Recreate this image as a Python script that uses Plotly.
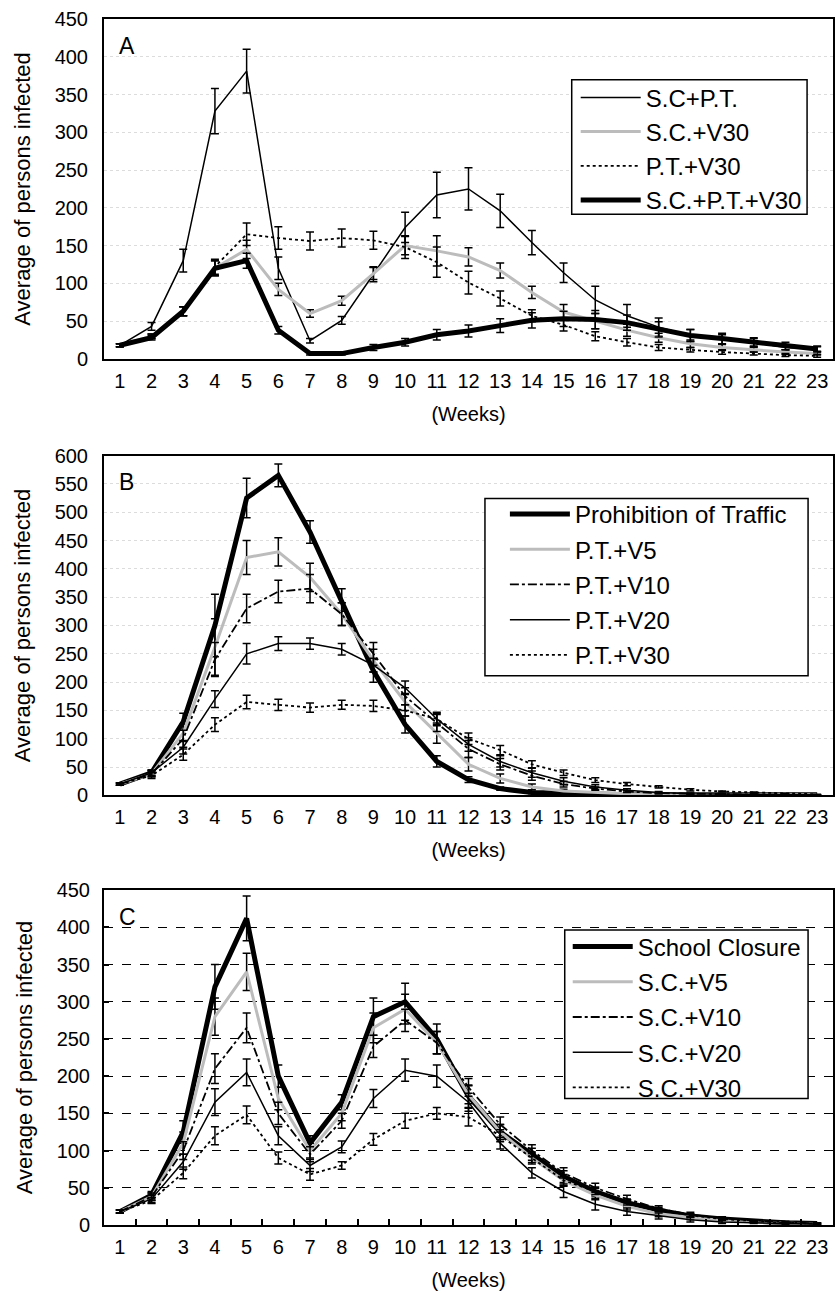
import plotly.graph_objects as go

weeks = list(range(1, 24))

# Panel A
a_names = ["S.C+P.T.", "S.C.+V30", "P.T.+V30", "S.C.+P.T.+V30"]
a_sc_pt = [18, 43, 130, 328, 381, 120, 24, 51, 112, 174, 217, 225, 196, 154, 114, 78, 57, 42, 31, 26, 22, 15, 13]
a_sc_v30 = [18, 30, 63, 120, 145, 92, 60, 77, 113, 150, 143, 135, 117, 88, 62, 50, 38, 28, 20, 15, 12, 9, 7]
a_pt_v30 = [18, 30, 63, 122, 165, 160, 156, 160, 157, 148, 128, 101, 80, 57, 45, 30, 22, 15, 12, 9, 7, 5, 4]
a_all = [18, 28, 63, 120, 130, 38, 7, 7, 15, 22, 32, 37, 44, 51, 53, 52, 48, 39, 31, 27, 22, 17, 13]
a_sc_pt_err = [2, 5, 15, 30, 29, 15, 3, 5, 10, 20, 30, 28, 22, 16, 13, 18, 15, 12, 8, 6, 5, 4, 3]
a_sc_v30_err = [2, 3, 6, 10, 12, 8, 5, 6, 8, 12, 20, 12, 10, 8, 10, 10, 8, 6, 5, 4, 3, 3, 2]
a_pt_v30_err = [2, 3, 6, 10, 15, 15, 12, 12, 12, 15, 20, 15, 10, 8, 8, 6, 5, 4, 3, 3, 2, 2, 2]
a_all_err = [2, 3, 6, 10, 10, 5, 2, 2, 4, 5, 7, 8, 9, 10, 10, 12, 10, 10, 8, 7, 6, 5, 4]

# Panel B
b_names = ["Prohibition of Traffic", "P.T.+V5", "P.T.+V10", "P.T.+V20", "P.T.+V30"]
b_pt = [20, 40, 130, 300, 525, 565, 465, 345, 220, 125, 60, 28, 12, 5, 3, 2, 1, 1, 1, 1, 1, 1, 1]
b_v5 = [20, 38, 110, 262, 420, 430, 385, 320, 238, 165, 110, 55, 30, 15, 8, 5, 3, 2, 1, 1, 1, 1, 1]
b_v10 = [20, 38, 100, 240, 330, 360, 365, 320, 250, 175, 128, 82, 55, 35, 20, 12, 7, 4, 3, 2, 1, 1, 1]
b_v20 = [20, 40, 85, 170, 250, 268, 268, 258, 230, 190, 135, 90, 60, 40, 25, 15, 9, 5, 3, 2, 1, 1, 1]
b_v30 = [20, 35, 72, 125, 165, 160, 155, 160, 158, 150, 135, 100, 80, 55, 40, 27, 20, 15, 10, 7, 5, 3, 2]
b_pt_err = [2, 5, 15, 55, 35, 20, 20, 20, 20, 15, 10, 5, 3, 2, 1, 1, 1, 0, 0, 0, 0, 0, 0]
b_v5_err = [2, 5, 15, 50, 30, 25, 25, 20, 20, 15, 18, 12, 8, 5, 3, 2, 1, 1, 0, 0, 0, 0, 0]
b_v10_err = [2, 5, 15, 30, 25, 20, 25, 20, 20, 15, 15, 15, 10, 8, 5, 3, 2, 1, 1, 0, 0, 0, 0]
b_v20_err = [2, 5, 12, 15, 18, 12, 10, 10, 12, 12, 12, 12, 10, 8, 6, 4, 3, 2, 1, 1, 0, 0, 0]
b_v30_err = [2, 5, 10, 12, 12, 10, 8, 8, 10, 10, 10, 10, 8, 6, 5, 4, 3, 2, 2, 1, 1, 0, 0]

# Panel C
c_names = ["School Closure", "S.C.+V5", "S.C.+V10", "S.C.+V20", "S.C.+V30"]
c_sc = [18, 40, 125, 320, 412, 200, 110, 165, 280, 300, 250, 173, 125, 95, 65, 45, 30, 20, 12, 8, 5, 3, 2]
c_v5 = [18, 38, 110, 280, 340, 170, 100, 150, 265, 290, 245, 175, 125, 90, 60, 40, 25, 15, 10, 6, 4, 2, 1]
c_v10 = [18, 38, 100, 210, 265, 150, 95, 140, 240, 275, 245, 185, 135, 100, 70, 50, 35, 22, 14, 9, 6, 4, 2]
c_v20 = [18, 35, 85, 165, 205, 120, 80, 105, 170, 208, 200, 165, 110, 70, 45, 28, 18, 12, 7, 4, 3, 2, 1]
c_v30 = [18, 33, 70, 120, 148, 90, 68, 80, 115, 140, 150, 145, 120, 90, 60, 45, 30, 20, 13, 8, 5, 3, 2]
c_sc_err = [2, 5, 15, 30, 30, 15, 10, 10, 25, 25, 20, 15, 10, 8, 8, 6, 5, 4, 3, 2, 1, 1, 1]
c_v5_err = [2, 5, 15, 25, 25, 15, 10, 10, 20, 20, 15, 12, 10, 8, 8, 6, 5, 4, 3, 2, 1, 1, 1]
c_v10_err = [2, 5, 12, 20, 20, 15, 10, 10, 15, 15, 15, 12, 10, 8, 7, 6, 5, 4, 3, 2, 1, 1, 1]
c_v20_err = [2, 5, 10, 18, 18, 12, 8, 8, 12, 15, 15, 12, 8, 7, 8, 8, 5, 4, 3, 2, 1, 1, 1]
c_v30_err = [2, 4, 8, 12, 12, 8, 8, 5, 8, 10, 8, 12, 8, 6, 5, 4, 3, 2, 2, 1, 1, 1, 1]

FONT = "Arial, Liberation Sans, sans-serif"
GRAY = "#bcbcbc"

styles = {
    "thin": dict(color="black", width=1.5, dash="solid"),
    "gray": dict(color=GRAY, width=3, dash="solid"),
    "dot": dict(color="black", width=1.8, dash="dot"),
    "thick": dict(color="black", width=5, dash="solid"),
    "dashdot": dict(color="black", width=1.8, dash="dashdot"),
}

fig = go.Figure()

def add(name, ys, errs, style, axis_idx, legend):
    suffix = "" if axis_idx == 1 else str(axis_idx)
    fig.add_trace(go.Scatter(
        x=weeks, y=ys, name=name, mode="lines",
        line=styles[style],
        error_y=dict(type="data", array=errs, visible=True, color="black", thickness=1.5, width=4),
        xaxis="x" + suffix, yaxis="y" + suffix,
        legend=legend, legendgroup=name + legend,
    ))

add(a_names[0], a_sc_pt, a_sc_pt_err, "thin", 1, "legend")
add(a_names[1], a_sc_v30, a_sc_v30_err, "gray", 1, "legend")
add(a_names[2], a_pt_v30, a_pt_v30_err, "dot", 1, "legend")
add(a_names[3], a_all, a_all_err, "thick", 1, "legend")

add(b_names[0], b_pt, b_pt_err, "thick", 2, "legend2")
add(b_names[1], b_v5, b_v5_err, "gray", 2, "legend2")
add(b_names[2], b_v10, b_v10_err, "dashdot", 2, "legend2")
add(b_names[3], b_v20, b_v20_err, "thin", 2, "legend2")
add(b_names[4], b_v30, b_v30_err, "dot", 2, "legend2")

add(c_names[0], c_sc, c_sc_err, "thick", 3, "legend3")
add(c_names[1], c_v5, c_v5_err, "gray", 3, "legend3")
add(c_names[2], c_v10, c_v10_err, "dashdot", 3, "legend3")
add(c_names[3], c_v20, c_v20_err, "thin", 3, "legend3")
add(c_names[4], c_v30, c_v30_err, "dot", 3, "legend3")

L, R, T, B = 104, 835, 19, 1229
W = float(R - L)
H = float(B - T)
def px_x(p):
    return (p - L) / W
def px_y(p):
    return (B - p) / H
def dom(top_px, bot_px):
    return [px_y(bot_px), px_y(top_px)]

def xax(anchor, minor=False):
    d = dict(range=[0.5, 23.5], tickmode="array", tickvals=weeks, ticktext=[str(w) for w in weeks],
             ticks="", showline=True, linecolor="black", linewidth=2, mirror=True,
             showgrid=False, zeroline=False, anchor=anchor, domain=[0, 1],
             ticklabelstandoff=3,
             tickfont=dict(family=FONT, size=20, color="black"),
             title=dict(text="(Weeks)", font=dict(family=FONT, size=20, color="black"), standoff=16))
    if minor:
        d["minor"] = dict(tickvals=[w + 0.5 for w in weeks[:-1]], ticks="inside", ticklen=6,
                          tickcolor="black", tickwidth=1.5, showgrid=False)
    return d

def yax(anchor, rng, domain, grid):
    d = dict(range=rng, dtick=50, domain=domain, anchor=anchor,
             showline=True, linecolor="black", linewidth=2, mirror=True, ticks="",
             zeroline=False, ticklabelstandoff=10,
             tickfont=dict(family=FONT, size=20, color="black"),
             title=dict(text="Average of persons infected", font=dict(family=FONT, size=22, color="black"), standoff=18))
    if grid == "dash":
        d.update(showgrid=True, gridcolor="black", griddash="dash", gridwidth=1,
                 ticks="inside", ticklen=5, tickcolor="black", tickwidth=1.5, ticklabelstandoff=8)
    else:
        d.update(showgrid=True, gridcolor="#dcdcdc", griddash="dot", gridwidth=1)
    return d

def leg(xp, yp, gap):
    return dict(x=px_x(xp), y=px_y(yp), xanchor="left", yanchor="top", bgcolor="rgba(0,0,0,0)",
                borderwidth=0, tracegroupgap=gap, itemwidth=60,
                font=dict(family=FONT, size=24, color="black"))

# legend frames (pixel boxes)
frames = [(573, 80, 809, 215), (486, 500, 810, 678), (566, 933, 810, 1102)]

fig.update_layout(
    width=840, height=1293,
    margin=dict(l=L, r=840 - R, t=T, b=1293 - B),
    paper_bgcolor="white", plot_bgcolor="white",
    showlegend=True,
    xaxis=xax("y"), xaxis2=xax("y2"), xaxis3=xax("y3", minor=True),
    yaxis=yax("x", [0, 450], dom(19, 360), "dot"),
    yaxis2=yax("x2", [0, 600], dom(457, 798), "dot"),
    yaxis3=yax("x3", [0, 450], dom(893, 1229), "dash"),
    legend=leg(577, 75.5, 0),
    legend2=leg(506, 493.5, 1),
    legend3=leg(569, 927.5, 1),
)

for (x0, y0, x1, y1) in frames:
    fig.add_shape(type="rect", xref="paper", yref="paper",
                  x0=px_x(x0), x1=px_x(x1), y0=px_y(y1), y1=px_y(y0),
                  line=dict(color="black", width=1.5), fillcolor="white", layer="above")

for letter, xr, yr in [("A", "x", "y"), ("B", "x2", "y2"), ("C", "x3", "y3")]:
    fig.add_annotation(text=letter, xref=xr + " domain", yref=yr + " domain", x=0.018, y=0.965,
                       xanchor="left", yanchor="top", showarrow=False,
                       font=dict(family=FONT, size=23, color="black"))

fig.write_html("out.html", config={"displayModeBar": False},
               post_script="document.body.style.margin='0';")
